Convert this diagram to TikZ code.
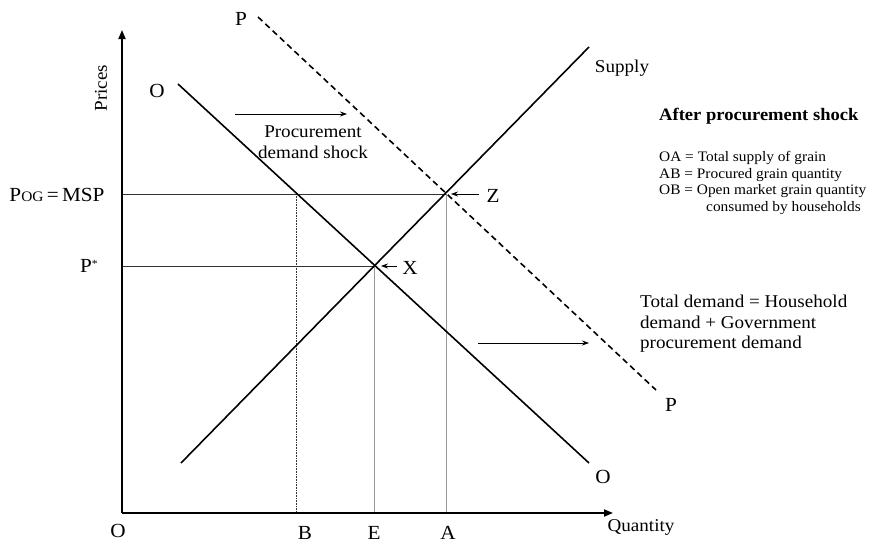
\documentclass[tikz,border=0pt]{standalone}
\usepackage{fontspec}
\setmainfont{Liberation Serif}[FakeStretch=1.06]
\usetikzlibrary{arrows.meta}
\begin{document}
\begin{tikzpicture}[x=1pt,y=-1pt,
  lbl/.style={inner sep=0pt,font=\fontsize{18}{20.5}\selectfont},
  big/.style={inner sep=0pt,font=\fontsize{20}{22}\selectfont},
  leg/.style={inner sep=0pt,anchor=base west,font=\fontsize{14.5}{17}\selectfont},
  axis/.style={line width=1.8pt,-{Triangle[length=9pt,width=7pt]}},
  curve/.style={line width=1.6pt},
  guide/.style={line width=0.6pt,black!80},
  guidegray/.style={line width=0.6pt,black!40},
  note/.style={line width=0.7pt,-{Stealth[length=7pt,width=5pt]}}]
\useasboundingbox (0,0) rectangle (894,546);
% coordinates
\coordinate (O) at (122,513);
\coordinate (Ytop) at (122,30);
\coordinate (Xend) at (613,513);
\coordinate (S1) at (181,463);
\coordinate (S2) at (589,47);
\coordinate (D1) at (178,84);
\coordinate (D2) at (589,463);
\coordinate (P1) at (258,17);
\coordinate (P2) at (656,390);
\coordinate (Z) at (446,194);
\coordinate (X) at (374,266);
\coordinate (Bt) at (296,194);
\coordinate (Bb) at (296,513);
\coordinate (Eb) at (374,513);
\coordinate (Ab) at (446,513);
\coordinate (Ym) at (122,194);
\coordinate (Yp) at (122,266);
% guides
\draw[guide] (Ym) -- (Z);
\draw[guide] (Yp) -- (X);
\draw[guide,densely dotted] (Bt) -- (Bb);
\draw[guidegray] (X) -- (Eb);
\draw[guidegray] (Z) -- (Ab);
% axes
\draw[axis] (O) -- (Ytop);
\draw[axis] (O) -- (Xend);
% curves
\draw[curve] (S1) -- (S2);
\draw[curve] (D1) -- (D2);
\draw[curve,dash pattern=on 6pt off 4pt] (P1) -- (P2);
% axis labels
\node[lbl,rotate=90] (prices) at (101,88) {Prices};
\node[lbl] (quant) at (641,527) {Quantity};
\node[big] (lO) at (118,531) {O};
\node[big] (lB) at (305,533) {B};
\node[big] (lE) at (374,533) {E};
\node[big] (lA) at (448,533) {A};
\node[big] (msp) at (57,195) {P{\fontsize{14.5}{16}\selectfont OG}\,=\,MSP};
\node[big] (pstar) at (89,266) {P\raisebox{5pt}{\fontsize{11}{12}\selectfont *}};
% curve labels
\node[big] (lP1) at (241,19) {P};
\node[big] (lO1) at (157,91) {O};
\node[lbl] (lsup) at (622,68) {Supply};
\node[big] (lO2) at (603,477) {O};
\node[big] (lP2) at (671,405) {P};
% point labels
\node[big] (lZ) at (493,196) {Z};
\node[big] (lX) at (410,268) {X};
\coordinate (Zt) at (479,194);
\coordinate (Xt) at (397,266);
\draw[note] (Zt) -- ([xshift=5pt]Z);
\draw[note] (Xt) -- ([xshift=7pt]X);
% shock annotation
\coordinate (sh1) at (235,114);
\coordinate (sh2) at (347,114);
\draw[note] (sh1) -- (sh2);
\node[lbl,align=center] (shock) at (313,142) {Procurement\\demand shock};
\coordinate (td1) at (478,343);
\coordinate (td2) at (589,343);
\draw[note] (td1) -- (td2);
\node[lbl,align=left,anchor=north west] (total) at (640,295) {Total demand = Household\\demand + Government\\procurement demand};
% legend
\node[leg,font=\fontsize{17.5}{20}\selectfont\bfseries] (title) at (659,120) {After procurement shock};
\node[leg] (oa) at (659,161) {OA = Total supply of grain};
\node[leg] (ab) at (659,178) {AB = Procured grain quantity};
\node[leg] (ob) at (659,194) {OB = Open market grain quantity};
\node[leg] (cons) at (706,211) {consumed by households};
\end{tikzpicture}
\end{document}
